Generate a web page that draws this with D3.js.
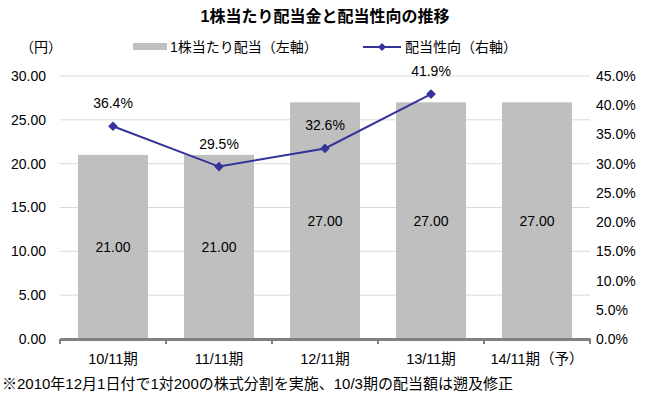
<!DOCTYPE html>
<html>
<head>
<meta charset="utf-8">
<script src="https://cdn.jsdelivr.net/npm/d3@7"></script>
<style>
  body { margin: 0; background: #fff; }
  text { font-family: "Liberation Sans", Arial, "Noto Sans CJK JP", sans-serif; fill: #000; }
</style>
</head>
<body>
<div id="chart"></div>
<script>
const categories = ["10/11期", "11/11期", "12/11期", "13/11期", "14/11期（予）"];
const dividend = [21.00, 21.00, 27.00, 27.00, 27.00];
const payoutRatio = [36.4, 29.5, 32.6, 41.9, null];
const leftTicks = [0, 5, 10, 15, 20, 25, 30];
const rightTicks = [0, 5, 10, 15, 20, 25, 30, 35, 40, 45];

const width = 647, height = 397;
const margin = { top: 76, right: 57, bottom: 58, left: 60 };
const innerW = width - margin.left - margin.right;
const innerH = height - margin.top - margin.bottom;

const svg = d3.select("#chart").append("svg")
    .attr("width", width)
    .attr("height", height);

const g = svg.append("g")
    .attr("transform", `translate(${margin.left},${margin.top})`);

const x = d3.scaleBand()
    .domain(categories)
    .range([0, innerW])
    .paddingInner(0.34)
    .paddingOuter(0.17);

const yL = d3.scaleLinear().domain([0, 30]).range([innerH, 0]);
const yR = d3.scaleLinear().domain([0, 45]).range([innerH, 0]);

// gridlines
g.append("g")
  .selectAll("line")
  .data(leftTicks.slice(1))
  .join("line")
    .attr("x1", 0)
    .attr("x2", innerW)
    .attr("y1", d => yL(d))
    .attr("y2", d => yL(d))
    .attr("stroke", "#d9d9d9")
    .attr("stroke-width", 1);

// bars
g.append("g")
  .selectAll("rect")
  .data(dividend)
  .join("rect")
    .attr("x", (d, i) => x(categories[i]))
    .attr("y", d => yL(d))
    .attr("width", x.bandwidth())
    .attr("height", d => innerH - yL(d))
    .attr("fill", "#bfbfbf");

g.append("g")
    .attr("font-size", 14)
    .attr("text-anchor", "middle")
  .selectAll("text")
  .data(dividend)
  .join("text")
    .attr("x", (d, i) => x(categories[i]) + x.bandwidth() / 2)
    .attr("y", d => yL(d / 2))
    .attr("dy", "0.35em")
    .text(d => d.toFixed(2));

// left axis
const axL = g.append("g")
    .call(d3.axisLeft(yL).tickValues(leftTicks).tickFormat(d3.format(".2f")).tickSize(0).tickPadding(14));
axL.select(".domain").remove();
axL.selectAll("text").attr("font-size", 14).attr("font-family", null);

// right axis
const axR = g.append("g")
    .attr("transform", `translate(${innerW},0)`)
    .call(d3.axisRight(yR).tickValues(rightTicks).tickFormat(d => d.toFixed(1) + "%").tickSize(0).tickPadding(6));
axR.select(".domain").remove();
axR.selectAll("text").attr("font-size", 14).attr("font-family", null);

// x axis
const axX = g.append("g")
    .attr("transform", `translate(0,${innerH})`)
    .call(d3.axisBottom(x).tickSize(0).tickPadding(15));
axX.select(".domain").attr("stroke", "#808080").attr("stroke-width", 3);
axX.selectAll("text").attr("font-size", 14.5).attr("font-family", null);
const step = x.step();
axX.append("g")
  .selectAll("line")
  .data(d3.range(categories.length + 1))
  .join("line")
    .attr("x1", i => i * step)
    .attr("x2", i => i * step)
    .attr("y1", 0)
    .attr("y2", 5)
    .attr("stroke", "#808080")
    .attr("stroke-width", 2);

// line
const pts = payoutRatio.map((v, i) => ({ v, c: categories[i] })).filter(d => d.v != null);
const line = d3.line()
    .x(d => x(d.c) + x.bandwidth() / 2)
    .y(d => yR(d.v));

g.append("path")
    .datum(pts)
    .attr("fill", "none")
    .attr("stroke", "#333399")
    .attr("stroke-width", 2)
    .attr("d", line);

g.append("g")
  .selectAll("path")
  .data(pts)
  .join("path")
    .attr("transform", d => `translate(${x(d.c) + x.bandwidth() / 2},${yR(d.v)})`)
    .attr("d", d3.symbol(d3.symbolDiamond2, 60))
    .attr("fill", "#333399");

g.append("g")
    .attr("font-size", 14)
    .attr("text-anchor", "middle")
  .selectAll("text")
  .data(pts)
  .join("text")
    .attr("x", d => x(d.c) + x.bandwidth() / 2)
    .attr("y", d => yR(d.v) - 18)
    .text(d => d.v.toFixed(1) + "%");

// title
svg.append("text")
    .attr("x", 325)
    .attr("y", 22)
    .attr("text-anchor", "middle")
    .attr("font-size", 16)
    .attr("font-weight", "bold")
    .text("1株当たり配当金と配当性向の推移");

// unit
svg.append("text")
    .attr("x", 20)
    .attr("y", 52)
    .attr("font-size", 14)
    .text("（円）");

// legend
const lg = svg.append("g").attr("font-size", 14);
lg.append("rect")
    .attr("x", 133).attr("y", 43)
    .attr("width", 34).attr("height", 7)
    .attr("fill", "#bfbfbf");
lg.append("text")
    .attr("x", 170).attr("y", 52)
    .text("1株当たり配当（左軸）");
lg.append("line")
    .attr("x1", 363).attr("x2", 401)
    .attr("y1", 47).attr("y2", 47)
    .attr("stroke", "#333399").attr("stroke-width", 2);
lg.append("path")
    .attr("transform", "translate(382,47)")
    .attr("d", d3.symbol(d3.symbolDiamond2, 40))
    .attr("fill", "#333399");
lg.append("text")
    .attr("x", 405).attr("y", 52)
    .text("配当性向（右軸）");

// footnote
svg.append("text")
    .attr("x", 2)
    .attr("y", 389)
    .attr("font-size", 15)
    .text("※2010年12月1日付で1対200の株式分割を実施、10/3期の配当額は遡及修正");
</script>
</body>
</html>
